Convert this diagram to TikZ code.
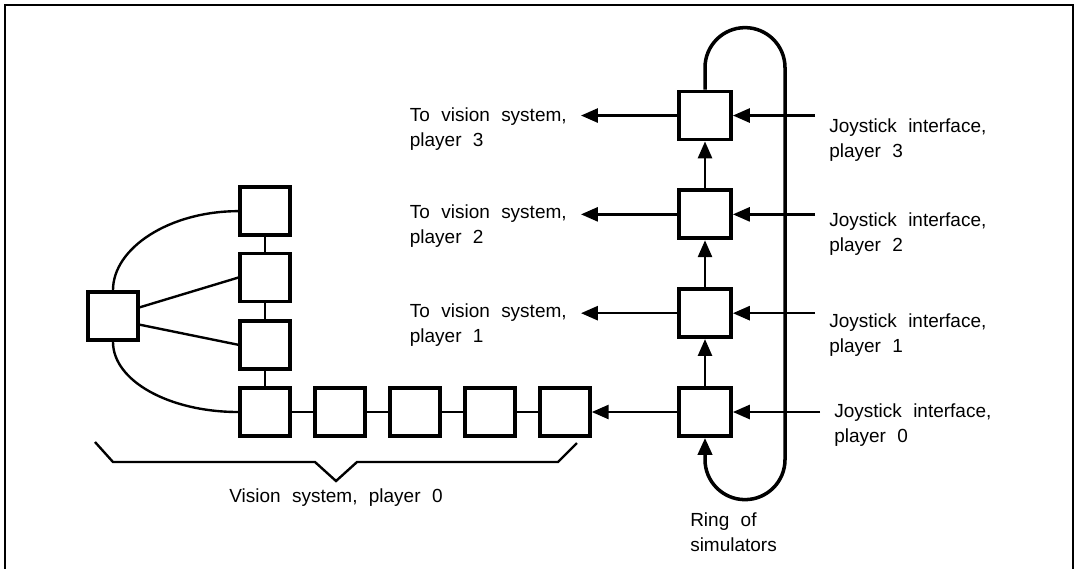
\documentclass[tikz,border=0pt]{standalone}
\usepackage{fontspec}
\setmainfont{Liberation Sans}
\usetikzlibrary{arrows.meta, positioning}
\newcommand\labelfont{\fontsize{13.5}{17.8}\selectfont\spaceskip=0.6em plus 0.1em\relax}
\tikzstyle{unit} = [rectangle, draw=black, line width=2.7pt, minimum width=1.24cm, minimum height=1.2cm, inner sep=0pt]
\tikzstyle{simunit} = [unit, minimum width=1.3cm]
\tikzstyle{link} = [line width=1.7pt]
\tikzstyle{arrow} = [line width=1.7pt, -{Triangle[length=12pt,width=10pt]}]
\tikzstyle{ringline} = [line width=2.5pt, rounded corners=1cm, -{Triangle[length=12pt,width=10pt]}]
\tikzstyle{txt} = [align=left, inner sep=0pt, font=\labelfont]
\tikzstyle{outlabel} = [txt, anchor=north east, inner xsep=10pt]
\tikzstyle{inlabel} = [txt, anchor=north west, inner xsep=10pt]

\begin{document}
\begin{tikzpicture}[x=0.025cm, y=-0.025cm, node distance=1.875cm, on grid]
        \useasboundingbox (0,0) rectangle (1076,568);
        \draw[line width=1.5pt] (5,572) -- (5,5) -- (1073,5) -- (1073,572);

        \node (v0) [unit] at (265,412) {};
        \node (v1) [unit, right=of v0] {};
        \node (v2) [unit, right=of v1] {};
        \node (v3) [unit, right=of v2] {};
        \node (v4) [unit, right=of v3] {};
        \node (c1) [unit, above=1.68cm of v0] {};
        \node (c2) [unit, above=1.68cm of c1] {};
        \node (c3) [unit, above=1.66cm of c2] {};
        \node (hub) [unit] at (113,316) {};

        \node (r0) [simunit] at (705,412) {};
        \node (r1) [simunit, above=2.47cm of r0] {};
        \node (r2) [simunit, above=2.47cm of r1] {};
        \node (r3) [simunit, above=2.47cm of r2] {};

        \node (t1) [outlabel] at (581,303) {To vision system,\\player 1};
        \node (t2) [outlabel] at (581,204) {To vision system,\\player 2};
        \node (t3) [outlabel] at (581,107) {To vision system,\\player 3};
        \node (j0) [inlabel] at (820,403) {Joystick interface,\\player 0};
        \node (j1) [inlabel] at (815,313) {Joystick interface,\\player 1};
        \node (j2) [inlabel] at (815,212) {Joystick interface,\\player 2};
        \node (j3) [inlabel] at (815,118) {Joystick interface,\\player 3};
        \node (vis) [txt] at (336,498) {Vision system, player 0};
        \node (ring) [txt, anchor=north west] at (690,512) {Ring of\\simulators};

        \foreach \a/\b in {v0/v1, v1/v2, v2/v3, v3/v4}
            \draw [link] (\a.east) -- (\b.west);
        \foreach \a/\b in {v0/c1, c1/c2, c2/c3}
            \draw [link] (\a.north) -- (\b.south);
        \draw [link] (hub.18) -- (c2.west);
        \draw [link] (hub.-18) -- (c1.west);
        \draw [link] (hub.north) .. controls +(0,-42) and +(-69,0) .. (c3.west);
        \draw [link] (hub.south) .. controls +(0,39) and +(-69,0) .. (v0.west);
        \draw [link] (95,442) -- (113,462) -- (315,462) -- (vis.north |- 0,481) -- (357,462) -- (558,462) -- (577,443);

        \draw [ringline] (r3.north) -- ++(0,-62) -- ++(80,0) -- ++(0,472) -- ++(-80,0) -- (r0.south);
        \foreach \a/\b in {r0/r1, r1/r2, r2/r3}
            \draw [arrow] (\a.north) -- (\b.south);
        \draw [arrow] (r0.west) -- (v4.east);
        \foreach \i in {1,2,3}
            \draw [arrow] (r\i.west) -- (r\i.west -| t\i.east);
        \foreach \i in {0,...,3}
            \draw [arrow] (r\i.east -| j\i.west) -- (r\i.east);
    \end{tikzpicture}
\end{document}
